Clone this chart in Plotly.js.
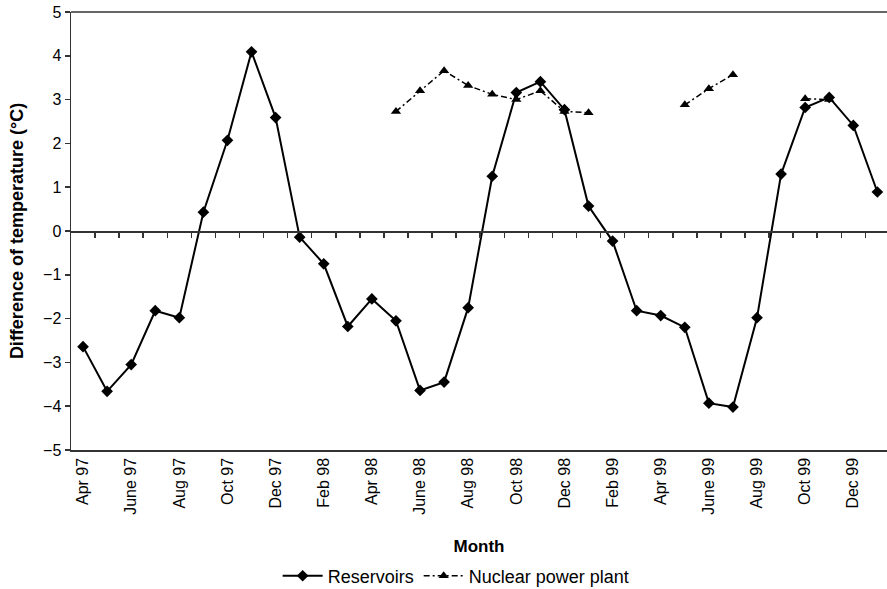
<!DOCTYPE html>
<html>
<head>
<meta charset="utf-8">
<script src="https://cdn.plot.ly/plotly-3.0.1.min.js"></script>
<style>html,body{margin:0;padding:0;background:#fff;}#chart{width:887px;height:589px;}</style>
</head>
<body>
<div id="chart"></div>
<script>
const months = ["Apr 97","May 97","June 97","July 97","Aug 97","Sep 97","Oct 97","Nov 97","Dec 97",
  "Jan 98","Feb 98","Mar 98","Apr 98","May 98","June 98","July 98","Aug 98","Sep 98","Oct 98","Nov 98","Dec 98",
  "Jan 99","Feb 99","Mar 99","Apr 99","May 99","June 99","July 99","Aug 99","Sep 99","Oct 99","Nov 99","Dec 99",
  "Jan 00"];
const tickLabels = ["Apr 97","June 97","Aug 97","Oct 97","Dec 97","Feb 98","Apr 98","June 98","Aug 98",
  "Oct 98","Dec 98","Feb 99","Apr 99","June 99","Aug 99","Oct 99","Dec 99"];
const reservoirs = [-2.64,-3.66,-3.05,-1.82,-1.98,0.43,2.07,4.09,2.59,
  -0.14,-0.75,-2.18,-1.55,-2.05,-3.64,-3.45,-1.75,1.25,3.16,3.41,2.77,
  0.57,-0.23,-1.82,-1.93,-2.2,-3.93,-4.02,-1.98,1.3,2.82,3.05,2.41,
  0.89];
const nuclear = [null,null,null,null,null,null,null,null,null,
  null,null,null,null,2.73,3.2,3.66,3.32,3.12,3.0,3.2,2.73,
  2.7,null,null,null,2.88,3.25,3.57,null,null,3.02,3.0,null,
  null];

const idx = months.map((m,i)=>i);
const tickIdx = tickLabels.map(t=>months.indexOf(t));
const boundaries = months.slice(1).map((m,i)=>i+0.5);
const xr = [-0.5, 33.4];
const font = "Liberation Sans, Arial, sans-serif";

const traces = [
  {x: idx, y: reservoirs, name: "Reservoirs", type: "scatter", mode: "lines+markers",
   line: {color: "#000", width: 2}, marker: {symbol: "diamond", size: 9, color: "#000"},
   xaxis: "x", yaxis: "y"},
  {x: idx, y: nuclear, name: "Nuclear power plant", type: "scatter", mode: "lines+markers",
   connectgaps: false,
   line: {color: "#000", width: 1.5, dash: "6px,3px,2px,3px"}, marker: {symbol: "triangle-up", size: 9, color: "#000"},
   xaxis: "x2", yaxis: "y"}
];

const layout = {
  width: 887, height: 589,
  margin: {l: 71, r: 0, t: 12, b: 139},
  paper_bgcolor: "#fff", plot_bgcolor: "#fff",
  font: {family: font, size: 16, color: "#000"},
  showlegend: true,
  legend: {orientation: "h", x: 0.472, xanchor: "center", yref: "container", y: 0.022, yanchor: "middle",
    font: {size: 18, family: font}, itemwidth: 40, traceorder: "normal"},
  shapes: [{type: "line", xref: "paper", yref: "paper", x0: 0, x1: 1, y0: 1, y1: 1,
    line: {color: "#333", width: 1.5}}],
  xaxis: {
    range: xr, showgrid: false, zeroline: false,
    showline: true, linecolor: "#333", linewidth: 1.5,
    tickmode: "array", tickvals: tickIdx, ticktext: tickLabels,
    tickangle: -90, ticks: "", tickfont: {size: 16, family: font},
    title: {text: "<b>Month</b>", font: {size: 17, family: font}, standoff: 26},
    fixedrange: true
  },
  xaxis2: {
    overlaying: "x", anchor: "free", position: 0.5, range: xr,
    showgrid: false, zeroline: false, showline: true, linecolor: "#333", linewidth: 1.5,
    tickmode: "array", tickvals: boundaries, showticklabels: false,
    ticks: "outside", ticklen: 5, tickwidth: 1.5, tickcolor: "#333"
  },
  yaxis: {
    range: [-5, 5], dtick: 1, tick0: 0, showgrid: false, zeroline: false,
    showline: true, linecolor: "#333", linewidth: 1.5,
    ticks: "outside", ticklen: 5, tickwidth: 1.5, tickcolor: "#333",
    tickfont: {size: 16, family: font},
    title: {text: "<b>Difference of temperature (°C)</b>", font: {size: 18, family: font}, standoff: 14}
  }
};

Plotly.newPlot("chart", traces, layout, {displayModeBar: false, staticPlot: true});
</script>
</body>
</html>
